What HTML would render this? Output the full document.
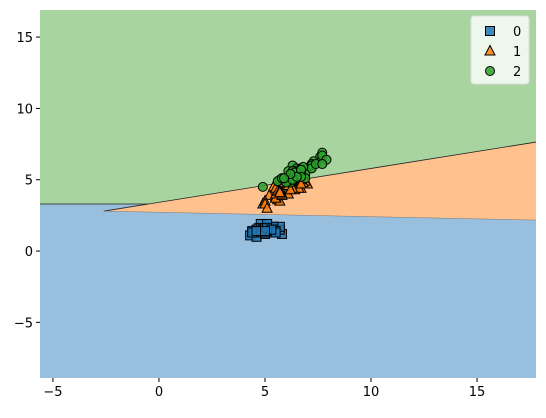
<!DOCTYPE html>
<html><head><meta charset="utf-8"><style>
body{margin:0;background:#fff}
svg text{font-family:"DejaVu Sans","Liberation Sans",sans-serif;font-size:13px;fill:#000}
</style></head><body>
<svg id="c" width="546" height="413"></svg>
<script>
const xTicks=[-5,0,5,10,15];
const yTicks=[-5,0,5,10,15];
const classes=["0","1","2"];
const x0=[5.1,4.9,4.7,4.6,5.0,5.4,4.6,5.0,4.4,4.9,5.4,4.8,4.8,4.3,5.8,5.7,5.4,5.1,5.7,5.1,5.4,5.1,4.6,5.1,4.8,5.0,5.0,5.2,5.2,4.7,4.8,5.4,5.2,5.5,4.9,5.0,5.5,4.9,4.4,5.1,5.0,4.5,4.4,5.0,5.1,4.8,5.1,4.6,5.3,5.0];
const y0=[1.4,1.4,1.3,1.5,1.4,1.7,1.4,1.5,1.4,1.5,1.5,1.6,1.4,1.1,1.2,1.5,1.3,1.4,1.7,1.5,1.7,1.5,1.0,1.7,1.9,1.6,1.6,1.5,1.4,1.6,1.6,1.5,1.5,1.4,1.5,1.2,1.3,1.5,1.3,1.5,1.3,1.3,1.3,1.6,1.9,1.4,1.6,1.4,1.5,1.4];
const x1=[7.0,6.4,6.9,5.5,6.5,5.7,6.3,4.9,6.6,5.2,5.0,5.9,6.0,6.1,5.6,6.7,5.6,5.8,6.2,5.6,5.9,6.1,6.3,6.1,6.4,6.6,6.8,6.7,6.0,5.7,5.5,5.5,5.8,6.0,5.4,6.0,6.7,6.3,5.6,5.5,5.5,6.1,5.8,5.0,5.6,5.7,5.7,6.2,5.1,5.7];
const y1=[4.7,4.5,4.9,4.0,4.6,4.5,4.7,3.3,4.6,3.9,3.5,4.2,4.0,4.7,3.6,4.4,4.5,4.1,4.5,3.9,4.8,4.0,4.9,4.7,4.3,4.4,4.8,5.0,4.5,3.5,3.8,3.7,3.9,5.1,4.5,4.5,4.7,4.4,4.1,4.0,4.4,4.6,4.0,3.3,4.2,4.2,4.2,4.3,3.0,4.1];
const x2=[6.3,5.8,7.1,6.3,6.5,7.6,4.9,7.3,6.7,7.2,6.5,6.4,6.8,5.7,5.8,6.4,6.5,7.7,7.7,6.0,6.9,5.6,7.7,6.3,6.7,7.2,6.2,6.1,6.4,7.2,7.4,7.9,6.4,6.3,6.1,7.7,6.3,6.4,6.0,6.9,6.7,6.9,5.8,6.8,6.7,6.7,6.3,6.5,6.2,5.9];
const y2=[6.0,5.1,5.9,5.6,5.8,6.6,4.5,6.3,5.8,6.1,5.1,5.3,5.5,5.0,5.1,5.3,5.5,6.7,6.9,5.0,5.7,4.9,6.7,4.9,5.7,6.0,4.8,4.9,5.6,5.8,6.1,6.4,5.6,5.1,5.6,6.1,5.6,5.5,4.8,5.4,5.6,5.1,5.1,5.9,5.7,5.2,5.0,5.2,5.4,5.1];
// boundary vertices (data units)
const bndApex=[-2.6,2.8], bndTopR=[17.78,7.64], bndLowR=[17.78,2.17], bndGB=3.3;
const XMIN=-5.61,XMAX=17.78,YMIN=-8.9,YMAX=16.9;
const L=40,R=536,T=10,B=378;
const sx=v=>L+(v-XMIN)/(XMAX-XMIN)*(R-L);
const sy=v=>B-(v-YMIN)/(YMAX-YMIN)*(B-T);
const svg=document.getElementById('c');const NS="http://www.w3.org/2000/svg";
function mk(t,a,p){const e=document.createElementNS(NS,t);for(const k in a)e.setAttribute(k,a[k]);(p||svg).appendChild(e);return e;}
// regions
let e;
e=mk('rect',{x:L,y:T,width:R-L,height:B-T,fill:'#99bfde'});

// intersection of top edge with green/blue line
const slope=(bndTopR[1]-bndApex[1])/(bndTopR[0]-bndApex[0]);
const xi=bndApex[0]+(bndGB-bndApex[1])/slope;
e=mk('polygon',{points:`${L},${T} ${R},${T} ${R},${sy(bndTopR[1])} ${sx(xi)},${sy(bndGB)} ${L},${sy(bndGB)}`,fill:'#a8d4a0'});

e=mk('polygon',{points:`${sx(bndApex[0])},${sy(bndApex[1])} ${R},${sy(bndTopR[1])} ${R},${sy(bndLowR[1])}`,fill:'#ffc28e'});

mk('polyline',{points:`${L},${sy(bndGB)} ${sx(xi)},${sy(bndGB)} ${R},${sy(bndTopR[1])}`,fill:'none',stroke:'#222',"stroke-width":0.8});
mk('line',{x1:sx(bndApex[0]),y1:sy(bndApex[1]),x2:sx(xi),y2:sy(bndGB),stroke:'#333',"stroke-width":1});
mk('line',{x1:sx(bndApex[0]),y1:sy(bndApex[1]),x2:R,y2:sy(bndLowR[1]),stroke:'#777',"stroke-width":0.5});
// points
function sq(x,y,p){return mk('rect',{x:x-4.5,y:y-4.5,width:9,height:9,fill:'#1f77b4',"fill-opacity":0.85,stroke:'#000',"stroke-width":1},p);}
function tri(x,y,p){return mk('polygon',{points:`${x},${y-5.5} ${x+5},${y+4} ${x-5},${y+4}`,fill:'#ff7f0e',"fill-opacity":0.85,stroke:'#000',"stroke-width":1},p);}
function cir(x,y,p){return mk('circle',{cx:x,cy:y,r:4.5,fill:'#2ca02c',"fill-opacity":0.85,stroke:'#000',"stroke-width":1},p);}
const g0=mk('g',{});
x0.forEach((v,i)=>{const m=sq(sx(v),sy(y0[i]),g0);});
const g1=mk('g',{});
x1.forEach((v,i)=>{const m=tri(sx(v),sy(y1[i]),g1);});
const g2=mk('g',{});
x2.forEach((v,i)=>{const m=cir(sx(v),sy(y2[i]),g2);});
// ticks
xTicks.forEach(t=>{const x=sx(t);mk('line',{x1:x,y1:B,x2:x,y2:B+4,stroke:'#000'});
 const tx=mk('text',{x:x,y:B+18,"text-anchor":"middle"});tx.textContent=t<0?'\u2212'+(-t):t;
 });
yTicks.forEach(t=>{const y=sy(t);mk('line',{x1:L-4,y1:y,x2:L,y2:y,stroke:'#000'});
 const tx=mk('text',{x:L-7,y:y+5,"text-anchor":"end"});tx.textContent=t<0?'\u2212'+(-t):t;
 });
// legend
const lg=mk('g',{});
mk('rect',{x:471,y:16,width:58,height:68,rx:3,fill:'#fff',"fill-opacity":0.8,stroke:'#ddd'},lg);
const mks=[sq,tri,cir];
classes.forEach((c,i)=>{const y=31+i*20;const en=mk('g',{},lg);
 
 mks[i](490,y,en);const t=mk('text',{x:513,y:y+5},en);t.textContent=c;});
</script>
</body></html>
